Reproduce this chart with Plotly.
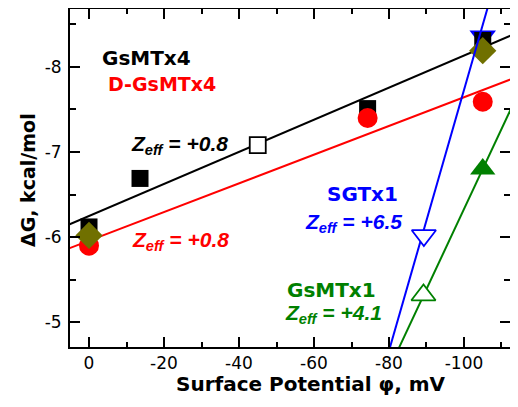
import plotly.graph_objects as go

# ---- data (surface potential, mV ; binding free energy, kcal/mol) ----
gsmtx4_x = [0, -13.6, -74.3, -105]
gsmtx4_y = [-6.12, -6.69, -7.51, -8.31]
gsmtx4_open_x = [-45]
gsmtx4_open_y = [-7.08]
gsmtx4_fit_x = [10, -120]
gsmtx4_fit_y = [-6.06, -8.51]

dgsmtx4_x = [0, -74.3, -105]
dgsmtx4_y = [-5.9, -7.40, -7.59]
dgsmtx4_fit_x = [10, -120]
dgsmtx4_fit_y = [-5.79, -7.98]

olive_x = [0, -105]
olive_y = [-6.02, -8.19]

sgtx1_x = [-105]
sgtx1_y = [-8.36]
sgtx1_open_x = [-89.3]
sgtx1_open_y = [-6.02]
sgtx1_fit_x = [-78, -110]
sgtx1_fit_y = [-4.36, -9.26]

gsmtx1_x = [-105]
gsmtx1_y = [-6.80]
gsmtx1_open_x = [-89.2]
gsmtx1_open_y = [-5.32]
gsmtx1_fit_x = [-80, -120]
gsmtx1_fit_y = [-4.45, -8.21]

x_ticks = [0, -20, -40, -60, -80, -100]
y_ticks = [-5, -6, -7, -8]

X_RANGE = [5.07, -112.27]
Y_RANGE = [-4.71, -8.68]

BLACK = "#000000"
RED = "#ff0000"
BLUE = "#0000ff"
GREEN = "#008000"
OLIVE = "#707000"
FONT = "DejaVu Sans"
ZFONT = "Liberation Sans"

fig = go.Figure()

def line(x, y, color):
    fig.add_trace(go.Scatter(x=x, y=y, mode="lines", line=dict(color=color, width=2),
                             showlegend=False, hoverinfo="skip"))

def pts(x, y, symbol, size, color, fill, lw=0):
    fig.add_trace(go.Scatter(x=x, y=y, mode="markers", showlegend=False,
                             marker=dict(symbol=symbol, size=size, color=fill,
                                         line=dict(color=color, width=lw))))

pts(sgtx1_x, sgtx1_y, "triangle-down", 23, BLUE, BLUE)
line(gsmtx4_fit_x, gsmtx4_fit_y, BLACK)
line(dgsmtx4_fit_x, dgsmtx4_fit_y, RED)
pts(gsmtx4_x, gsmtx4_y, "square", 17, BLACK, BLACK)
pts(gsmtx4_open_x, gsmtx4_open_y, "square", 16, BLACK, "white", 1.8)
pts(dgsmtx4_x, dgsmtx4_y, "circle", 20, RED, RED)
pts(olive_x, olive_y, "diamond", 21, OLIVE, OLIVE)
line(sgtx1_fit_x, sgtx1_fit_y, BLUE)
pts(sgtx1_open_x, sgtx1_open_y, "triangle-down", 21, BLUE, "white", 1.8)
line(gsmtx1_fit_x, gsmtx1_fit_y, GREEN)
pts(gsmtx1_x, gsmtx1_y, "triangle-up", 22, GREEN, GREEN)
pts(gsmtx1_open_x, gsmtx1_open_y, "triangle-up", 21, GREEN, "white", 1.8)

# invisible trace that carries the right-hand tick axis
fig.add_trace(go.Scatter(x=gsmtx4_x, y=gsmtx4_y, yaxis="y2", mode="markers",
                         marker=dict(opacity=0), showlegend=False, hoverinfo="skip"))

def label(text, x, y, color, family=FONT, size=20):
    fig.add_annotation(text=text, x=x, y=y, xref="x", yref="y", showarrow=False,
                       xanchor="left", yanchor="middle",
                       font=dict(family=family, size=size, color=color))

label("<b>GsMTx4</b>", -2.9, -8.11, BLACK)
label("<b>D-GsMTx4</b>", -4.5, -7.80, RED, size=19)
label("<b><i>Z<sub>eff</sub> = +0.8</i></b>", -10.7, -7.08, BLACK, ZFONT, 21)
label("<b><i>Z<sub>eff</sub> = +0.8</i></b>", -10.9, -5.96, RED, ZFONT, 21)
label("<b>SGTx1</b>", -62.9, -6.51, BLUE)
label("<b><i>Z<sub>eff</sub> = +6.5</i></b>", -57.1, -6.17, BLUE, ZFONT, 21)
label("<b>GsMTx1</b>", -52.3, -5.38, GREEN)
label("<b><i>Z<sub>eff</sub> = +4.1</i></b>", -51.7, -5.10, GREEN, ZFONT, 21)

# axis titles
fig.add_annotation(text="<b>Surface Potential φ, mV</b>", x=0.548, y=-0.1095,
                   xref="paper", yref="paper", showarrow=False,
                   xanchor="center", yanchor="middle",
                   font=dict(family=FONT, size=20, color=BLACK))
fig.add_annotation(text="<b>ΔG, kcal/mol</b>", x=-0.0955, y=0.494,
                   xref="paper", yref="paper", showarrow=False, textangle=-90,
                   xanchor="center", yanchor="middle",
                   font=dict(family=FONT, size=19, color=BLACK))

tick_common = dict(showgrid=False, zeroline=False, ticks="inside", ticklen=10,
                   tickwidth=2, tickcolor=BLACK,
                   tickfont=dict(family=FONT, size=17, color=BLACK))

fig.update_layout(
    xaxis=dict(range=X_RANGE, tickvals=x_ticks, ticktext=[str(v) for v in x_ticks],
               showline=True, linecolor=BLACK, linewidth=2, mirror="ticks",
               minor=dict(dtick=10, tick0=0, ticks="inside", ticklen=5,
                          tickwidth=2, tickcolor=BLACK),
               **tick_common),
    yaxis=dict(range=Y_RANGE, tickvals=y_ticks, ticktext=[str(v) for v in y_ticks],
               showline=True, linecolor=BLACK, linewidth=2, mirror=False,
               ticklabelstandoff=3,
               minor=dict(dtick=0.5, tick0=0, ticks="inside", ticklen=6,
                          tickwidth=2, tickcolor=BLACK),
               **tick_common),
    yaxis2=dict(range=Y_RANGE, overlaying="y", side="right", tickvals=y_ticks,
                showticklabels=False, showline=False,
                minor=dict(dtick=0.5, tick0=0, ticks="inside", ticklen=6,
                           tickwidth=2, tickcolor=BLACK),
                **tick_common),
)

# the page body adds an 8px margin, so the figure is sized to fit the window
fig.update_layout(width=502, height=391, margin=dict(l=62, r=0, t=1, b=52),
                  plot_bgcolor="white", paper_bgcolor="white",
                  font=dict(family=FONT))

fig.write_html("out.html")
